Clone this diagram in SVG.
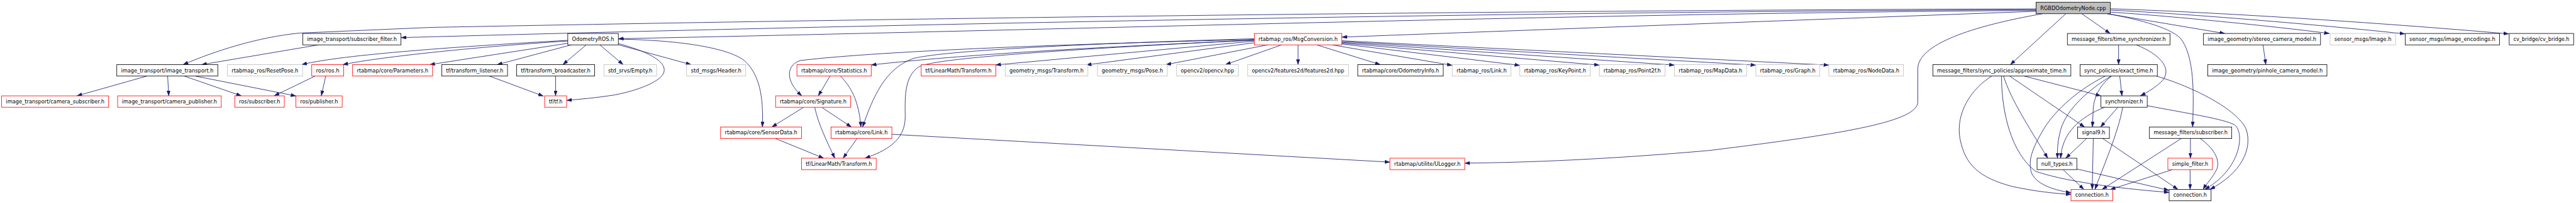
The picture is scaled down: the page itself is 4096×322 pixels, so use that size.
<svg xmlns="http://www.w3.org/2000/svg" width="4096" height="322" viewBox="0 0 4096 322">
<style>
.nb{fill:#fff;stroke:#000;stroke-width:1.3}
.nr{fill:#fff;stroke:#ff0000;stroke-width:1.3}
.ng{fill:#fff;stroke:#bfbfbf;stroke-width:1.3}
.nroot{fill:#bfbfbf;stroke:#000;stroke-width:1.3}
text{font-family:"DejaVu Sans","Liberation Sans",sans-serif;font-size:12.8px;fill:#000;text-anchor:middle}
.e path{fill:none;stroke:#191970;stroke-width:1.3;marker-end:url(#a)}
</style>
<defs>
<marker id="a" markerUnits="userSpaceOnUse" markerWidth="13" markerHeight="9" viewBox="0 0 13 9" refX="13" refY="4.5" orient="auto"><path d="M0,0 L13,4.5 L0,9 z" fill="#191970" stroke="#191970" stroke-width="0.5"/></marker>
</defs>
<rect width="4096" height="322" fill="#fff"/>
<g transform="scale(0.6397)">
<g id="edges" class="e">
<path d="M5061,22 C4000,25 2500,40 1070,68 L745,82 C640,92 530,128 455,160.3"/>
<path d="M5061,24 C4000,28 2500,52 996.7,93.3"/>
<path d="M5061,26 C4000,32 2600,75 1537,96"/>
<path d="M5061,28 L3335.3,92"/>
<path d="M5077,34 C4900,65 4768,110 4767,170 L4767,253 C4766,300 4600,330 4250,373 C4000,395 3800,403 3640.8,404.5"/>
<path d="M5135,34 L4997,160.3"/>
<path d="M5174.5,34 L5245,83"/>
<path d="M5238,34 C5300,45 5390,65 5420,95 C5455,140 5453,230 5450,315"/>
<path d="M5238,34 L5530,83"/>
<path d="M5245.3,30 C5400,40 5650,65 5790,83"/>
<path d="M5245.3,25 C5450,35 5750,60 5978,84"/>
<path d="M5245.3,21.7 C5500,30 5900,55 6236,84"/>
<path d="M5266,111.3 L5266,160.3"/>
<path d="M5310,111.3 C5370,135 5400,170 5375,200 C5360,215 5340,228 5320,237.7"/>
<path d="M5031.4,188.7 L5222,237.7"/>
<path d="M4995.3,188.7 L5181.5,315"/>
<path d="M4980,188.7 C5000,250 5040,310 5090,392.3"/>
<path d="M4950.8,188.7 C4900,220 4860,280 4872,345 C4885,410 4920,440 5000,462 C5060,475 5110,480 5147.8,482"/>
<path d="M4975,188.7 C4975,280 5000,380 5060,425 C5150,455 5300,470 5391.6,477"/>
<path d="M5233,188.7 C5170,220 5110,270 5080,320 C5050,370 5040,400 5050,430 C5065,460 5110,472 5147.8,478"/>
<path d="M5247,188.7 C5180,230 5130,280 5120,330 C5113,360 5114,380 5114,392.3"/>
<path d="M5248.7,188.7 C5220,210 5205,240 5203,270 L5201,315"/>
<path d="M5269,188.7 L5274.4,237.7"/>
<path d="M5360,188.7 C5450,215 5560,270 5583,320 C5600,370 5570,430 5493,469.7"/>
<path d="M5231.5,266 C5170,290 5125,330 5122,392.3"/>
<path d="M5264.2,266 L5221.2,315"/>
<path d="M5276.3,266 C5265,330 5225,420 5207.4,469.7"/>
<path d="M5337,262 C5430,280 5530,295 5555,310 C5580,330 5570,420 5480,469.7"/>
<path d="M5186.7,343.3 L5134.6,392.3"/>
<path d="M5203.2,343.3 L5200.5,469.7"/>
<path d="M5226.3,343.3 L5413.6,469.7"/>
<path d="M5128.2,420.7 L5179.8,469.7"/>
<path d="M5162.3,419 L5391.6,472"/>
<path d="M5444.6,343.3 L5444.6,392.3"/>
<path d="M5468.6,343.3 C5500,365 5520,395 5510,420 C5500,440 5485,455 5476,469.7"/>
<path d="M5422.2,343.3 L5225,469.7"/>
<path d="M5443.8,420.7 L5443.8,469.7"/>
<path d="M5399.9,420.7 L5245,470"/>
<path d="M5625.1,111.3 L5632,160.3"/>
<path d="M1457,111.3 L1399,160.3"/>
<path d="M1491.2,111.3 L1549,160.3"/>
<path d="M1419.9,111.3 L1235.6,160.3"/>
<path d="M1411.3,107.3 L1068,160.3"/>
<path d="M1411.3,101.7 C1200,115 950,140 852,160.3"/>
<path d="M1411.3,100 C1150,115 850,135 750,160.3"/>
<path d="M1537,97 C1700,100 1810,120 1850,150 C1895,190 1897,260 1895,315"/>
<path d="M1537,108 C1600,125 1660,150 1650,180 C1640,205 1580,225 1530,235 C1480,243 1440,246 1408.5,249"/>
<path d="M1537,111 L1718,160.3"/>
<path d="M1216.7,188.7 L1350.7,238.3"/>
<path d="M1381,188.7 L1381,237.7"/>
<path d="M365,188.7 L191,237.7"/>
<path d="M416.7,188.7 L419.5,237.7"/>
<path d="M458,188.7 L600,237.7"/>
<path d="M485.6,188.7 L735.6,238"/>
<path d="M791.7,111.3 L501,160.3"/>
<path d="M783.1,188.7 L681.5,237.7"/>
<path d="M809.6,188.7 L798.6,237.7"/>
<path d="M3117.7,106 L2700,161"/>
<path d="M3151,111.3 L2898,160.3"/>
<path d="M3185.5,111.3 L3046,160.3"/>
<path d="M3226.5,111.3 L3226.5,160.3"/>
<path d="M3273,111.3 L3431,160.3"/>
<path d="M3310.7,111.3 L3609.8,162"/>
<path d="M3335.3,109 L3777.8,162"/>
<path d="M3335.3,107 L3975.5,161.5"/>
<path d="M3335.3,105 L4162.2,161.5"/>
<path d="M3335.3,103 L4364.3,161.5"/>
<path d="M3335.3,101 L4545.8,161.5"/>
<path d="M3117.7,102 L2475,161"/>
<path d="M3117.7,100 C2700,118 2400,135 2165.5,161"/>
<path d="M3117.7,98 C2700,108 2200,125 1990,150 C1955,160 1950,200 1993,237.7"/>
<path d="M3117.7,96 C2700,108 2350,125 2270,145 C2200,170 2170,240 2144,315"/>
<path d="M3117.7,99 C2600,125 2330,145 2285,165 C2245,190 2250,250 2250,290 C2250,350 2200,375 2150,392.3"/>
<path d="M2063,188.7 L2034,237.7"/>
<path d="M2089,188.7 C2115,215 2135,250 2140,315"/>
<path d="M1997.6,266 L1918.5,315"/>
<path d="M2025,266 C2035,310 2055,350 2075,392.3"/>
<path d="M2042.4,266 L2116.3,315"/>
<path d="M1927,343.3 L2047.5,392.3"/>
<path d="M2130.3,343.3 L2095.7,392.3"/>
<path d="M2216.8,333 L3454.8,402"/>
</g>
<g id="n0"><rect class="nroot" x="5061" y="5.7" width="184.3" height="28.3"/><text x="5153.15" y="24.45" textLength="163.3" lengthAdjust="spacingAndGlyphs">RGBDOdometryNode.cpp</text></g>
<g id="n_sf"><rect class="nb" x="752.8" y="83" width="243.9" height="28.3"/><text x="874.75" y="101.75" textLength="222.9" lengthAdjust="spacingAndGlyphs">image_transport/subscriber_filter.h</text></g>
<g id="n_odom"><rect class="nb" x="1411.3" y="83" width="125.7" height="28.3"/><text x="1474.15" y="101.75" textLength="104.7" lengthAdjust="spacingAndGlyphs">OdometryROS.h</text></g>
<g id="n_msg"><rect class="nr" x="3117.7" y="83" width="217.6" height="28.3"/><text x="3226.5" y="101.75" textLength="196.6" lengthAdjust="spacingAndGlyphs">rtabmap_ros/MsgConversion.h</text></g>
<g id="n_ts"><rect class="nb" x="5138.8" y="83" width="255.2" height="28.3"/><text x="5266.4" y="101.75" textLength="234.2" lengthAdjust="spacingAndGlyphs">message_filters/time_synchronizer.h</text></g>
<g id="n_stereo"><rect class="nb" x="5477" y="83" width="291" height="28.3"/><text x="5622.5" y="101.75" textLength="270" lengthAdjust="spacingAndGlyphs">image_geometry/stereo_camera_model.h</text></g>
<g id="n_img"><rect class="ng" x="5791.8" y="83" width="162.8" height="28.3"/><text x="5873.2" y="101.75" textLength="141.8" lengthAdjust="spacingAndGlyphs">sensor_msgs/Image.h</text></g>
<g id="n_enc"><rect class="nb" x="5978.4" y="83" width="234.6" height="28.3"/><text x="6095.7" y="101.75" textLength="213.6" lengthAdjust="spacingAndGlyphs">sensor_msgs/image_encodings.h</text></g>
<g id="n_cvb"><rect class="nb" x="6237" y="83" width="160.1" height="28.3"/><text x="6317.05" y="101.75" textLength="139.1" lengthAdjust="spacingAndGlyphs">cv_bridge/cv_bridge.h</text></g>
<g id="n_it"><rect class="nb" x="290.3" y="160.3" width="251.1" height="28.3"/><text x="415.85" y="179.05" textLength="230.1" lengthAdjust="spacingAndGlyphs">image_transport/image_transport.h</text></g>
<g id="n_reset"><rect class="ng" x="565.1" y="160.3" width="187" height="28.3"/><text x="658.6" y="179.05" textLength="166" lengthAdjust="spacingAndGlyphs">rtabmap_ros/ResetPose.h</text></g>
<g id="n_ros"><rect class="nr" x="774.9" y="160.3" width="79.2" height="28.3"/><text x="814.5" y="179.05" textLength="58.2" lengthAdjust="spacingAndGlyphs">ros/ros.h</text></g>
<g id="n_param"><rect class="nr" x="876.5" y="160.3" width="198.7" height="28.3"/><text x="975.85" y="179.05" textLength="177.7" lengthAdjust="spacingAndGlyphs">rtabmap/core/Parameters.h</text></g>
<g id="n_tl"><rect class="nb" x="1098.2" y="160.3" width="163.3" height="28.3"/><text x="1179.85" y="179.05" textLength="142.3" lengthAdjust="spacingAndGlyphs">tf/transform_listener.h</text></g>
<g id="n_tb"><rect class="nb" x="1284.2" y="160.3" width="193.9" height="28.3"/><text x="1381.15" y="179.05" textLength="172.9" lengthAdjust="spacingAndGlyphs">tf/transform_broadcaster.h</text></g>
<g id="n_empty"><rect class="ng" x="1501.2" y="160.3" width="130.8" height="28.3"/><text x="1566.6" y="179.05" textLength="109.8" lengthAdjust="spacingAndGlyphs">std_srvs/Empty.h</text></g>
<g id="n_header"><rect class="ng" x="1706.7" y="160.3" width="146.8" height="28.3"/><text x="1780.1" y="179.05" textLength="125.8" lengthAdjust="spacingAndGlyphs">std_msgs/Header.h</text></g>
<g id="n_stats"><rect class="nr" x="1980.9" y="160.3" width="184.6" height="28.3"/><text x="2073.2" y="179.05" textLength="163.6" lengthAdjust="spacingAndGlyphs">rtabmap/core/Statistics.h</text></g>
<g id="n_lmt2"><rect class="nr" x="2289.8" y="160.3" width="185.3" height="28.3"/><text x="2382.45" y="179.05" textLength="164.3" lengthAdjust="spacingAndGlyphs">tf/LinearMath/Transform.h</text></g>
<g id="n_gtf"><rect class="ng" x="2498.5" y="160.3" width="205.6" height="28.3"/><text x="2601.3" y="179.05" textLength="184.6" lengthAdjust="spacingAndGlyphs">geometry_msgs/Transform.h</text></g>
<g id="n_pose"><rect class="ng" x="2727.8" y="160.3" width="173.6" height="28.3"/><text x="2814.6" y="179.05" textLength="152.6" lengthAdjust="spacingAndGlyphs">geometry_msgs/Pose.h</text></g>
<g id="n_cv"><rect class="ng" x="2924.5" y="160.3" width="153.6" height="28.3"/><text x="3001.3" y="179.05" textLength="132.6" lengthAdjust="spacingAndGlyphs">opencv2/opencv.hpp</text></g>
<g id="n_f2d"><rect class="ng" x="3101.2" y="160.3" width="250.7" height="28.3"/><text x="3226.55" y="179.05" textLength="229.7" lengthAdjust="spacingAndGlyphs">opencv2/features2d/features2d.hpp</text></g>
<g id="n_oi"><rect class="nb" x="3374.9" y="160.3" width="212.5" height="28.3"/><text x="3481.15" y="179.05" textLength="191.5" lengthAdjust="spacingAndGlyphs">rtabmap/core/OdometryInfo.h</text></g>
<g id="n_rlink"><rect class="ng" x="3609.8" y="160.3" width="145.7" height="28.3"/><text x="3682.65" y="179.05" textLength="124.7" lengthAdjust="spacingAndGlyphs">rtabmap_ros/Link.h</text></g>
<g id="n_kp"><rect class="ng" x="3777.8" y="160.3" width="175" height="28.3"/><text x="3865.3" y="179.05" textLength="154" lengthAdjust="spacingAndGlyphs">rtabmap_ros/KeyPoint.h</text></g>
<g id="n_p2f"><rect class="ng" x="3975.5" y="160.3" width="163.3" height="28.3"/><text x="4057.15" y="179.05" textLength="142.3" lengthAdjust="spacingAndGlyphs">rtabmap_ros/Point2f.h</text></g>
<g id="n_md"><rect class="ng" x="4162.2" y="160.3" width="179.1" height="28.3"/><text x="4251.75" y="179.05" textLength="158.1" lengthAdjust="spacingAndGlyphs">rtabmap_ros/MapData.h</text></g>
<g id="n_graph"><rect class="ng" x="4364.3" y="160.3" width="159.1" height="28.3"/><text x="4443.85" y="179.05" textLength="138.1" lengthAdjust="spacingAndGlyphs">rtabmap_ros/Graph.h</text></g>
<g id="n_nd"><rect class="ng" x="4545.8" y="160.3" width="185.6" height="28.3"/><text x="4638.6" y="179.05" textLength="164.6" lengthAdjust="spacingAndGlyphs">rtabmap_ros/NodeData.h</text></g>
<g id="n_approx"><rect class="nb" x="4804.4" y="160.3" width="343" height="28.3"/><text x="4975.9" y="179.05" textLength="322" lengthAdjust="spacingAndGlyphs">message_filters/sync_policies/approximate_time.h</text></g>
<g id="n_exact"><rect class="nb" x="5170.2" y="160.3" width="192.1" height="28.3"/><text x="5266.25" y="179.05" textLength="171.1" lengthAdjust="spacingAndGlyphs">sync_policies/exact_time.h</text></g>
<g id="n_pin"><rect class="nb" x="5487.7" y="160.3" width="296.2" height="28.3"/><text x="5635.8" y="179.05" textLength="275.2" lengthAdjust="spacingAndGlyphs">image_geometry/pinhole_camera_model.h</text></g>
<g id="n_csub"><rect class="nr" x="4.1" y="237.7" width="265.9" height="28.3"/><text x="137.05" y="256.45" textLength="244.9" lengthAdjust="spacingAndGlyphs">image_transport/camera_subscriber.h</text></g>
<g id="n_cpub"><rect class="nr" x="292.4" y="237.7" width="257.6" height="28.3"/><text x="421.2" y="256.45" textLength="236.6" lengthAdjust="spacingAndGlyphs">image_transport/camera_publisher.h</text></g>
<g id="n_rsub"><rect class="nr" x="583.7" y="237.7" width="123" height="28.3"/><text x="645.2" y="256.45" textLength="102" lengthAdjust="spacingAndGlyphs">ros/subscriber.h</text></g>
<g id="n_rpub"><rect class="nr" x="735.6" y="237.7" width="115" height="28.3"/><text x="793.1" y="256.45" textLength="94" lengthAdjust="spacingAndGlyphs">ros/publisher.h</text></g>
<g id="n_tf"><rect class="nr" x="1353.8" y="237.7" width="54.7" height="28.3"/><text x="1381.15" y="256.45" textLength="33.7" lengthAdjust="spacingAndGlyphs">tf/tf.h</text></g>
<g id="n_sig"><rect class="nr" x="1927.9" y="237.7" width="186.6" height="28.3"/><text x="2021.2" y="256.45" textLength="165.6" lengthAdjust="spacingAndGlyphs">rtabmap/core/Signature.h</text></g>
<g id="n_sync"><rect class="nb" x="5222.2" y="237.7" width="115" height="28.3"/><text x="5279.7" y="256.45" textLength="94" lengthAdjust="spacingAndGlyphs">synchronizer.h</text></g>
<g id="n_sd"><rect class="nr" x="1791.1" y="315" width="201.1" height="28.3"/><text x="1891.65" y="333.75" textLength="180.1" lengthAdjust="spacingAndGlyphs">rtabmap/core/SensorData.h</text></g>
<g id="n_link"><rect class="nr" x="2065.6" y="315" width="151.2" height="28.3"/><text x="2141.2" y="333.75" textLength="130.2" lengthAdjust="spacingAndGlyphs">rtabmap/core/Link.h</text></g>
<g id="n_sig9"><rect class="nb" x="5164.3" y="315" width="78.9" height="28.3"/><text x="5203.75" y="333.75" textLength="57.9" lengthAdjust="spacingAndGlyphs">signal9.h</text></g>
<g id="n_mfsub"><rect class="nb" x="5342.7" y="315" width="204.6" height="28.3"/><text x="5445" y="333.75" textLength="183.6" lengthAdjust="spacingAndGlyphs">message_filters/subscriber.h</text></g>
<g id="n_lmt5"><rect class="nr" x="1992.2" y="392.3" width="185.7" height="28.3"/><text x="2085.05" y="411.05" textLength="164.7" lengthAdjust="spacingAndGlyphs">tf/LinearMath/Transform.h</text></g>
<g id="n_ulog"><rect class="nr" x="3454.8" y="392.3" width="186" height="28.3"/><text x="3547.8" y="411.05" textLength="165" lengthAdjust="spacingAndGlyphs">rtabmap/utilite/ULogger.h</text></g>
<g id="n_null"><rect class="nb" x="5063.4" y="392.3" width="98.9" height="28.3"/><text x="5112.85" y="411.05" textLength="77.9" lengthAdjust="spacingAndGlyphs">null_types.h</text></g>
<g id="n_simple"><rect class="nr" x="5388.5" y="392.3" width="110.9" height="28.3"/><text x="5443.95" y="411.05" textLength="89.9" lengthAdjust="spacingAndGlyphs">simple_filter.h</text></g>
<g id="n_conn1"><rect class="nr" x="5147.8" y="469.7" width="104" height="28.3"/><text x="5199.8" y="488.45" textLength="83" lengthAdjust="spacingAndGlyphs">connection.h</text></g>
<g id="n_conn2"><rect class="nb" x="5391.6" y="469.7" width="104.4" height="28.3"/><text x="5443.8" y="488.45" textLength="83.4" lengthAdjust="spacingAndGlyphs">connection.h</text></g>
</g>
</svg>
